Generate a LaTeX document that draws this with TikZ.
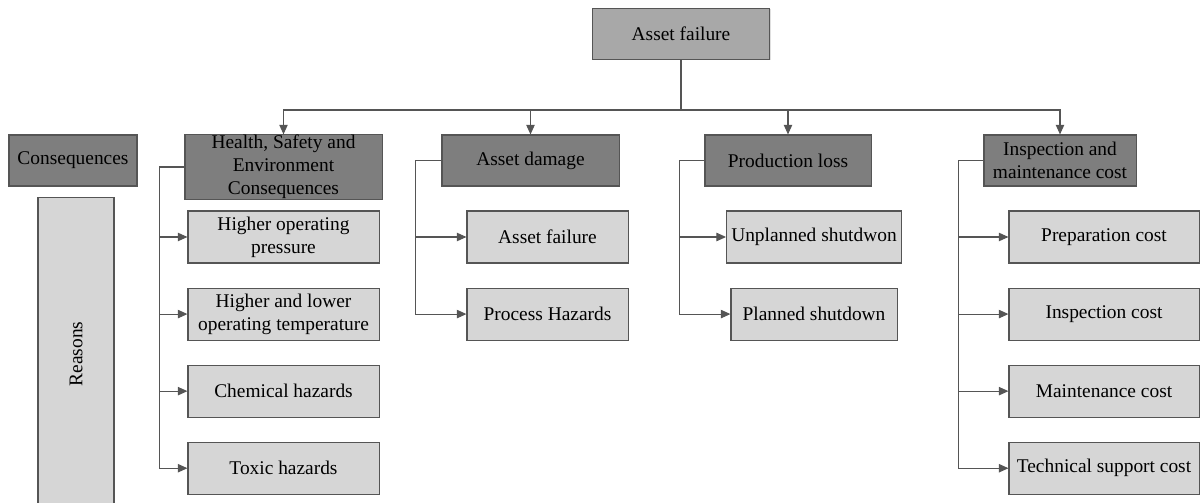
\documentclass[tikz,border=0pt]{standalone}
\usepackage{fontspec}
\setmainfont{Liberation Serif}
\usetikzlibrary{arrows.meta, positioning, shadows}
\definecolor{edgegray}{HTML}{555555}
\definecolor{rootgray}{HTML}{A8A8A8}
\definecolor{catgray}{HTML}{7E7E7E}
\definecolor{leafgray}{HTML}{D6D6D6}
\newcommand{\diagfont}{\fontsize{13.8}{16.5}\selectfont}
\tikzset{
  rootbox/.style  = {rectangle, draw=edgegray, fill=rootgray, line width=0.75pt,
                     minimum width=4.425cm, minimum height=1.275cm,
                     align=center, font=\diagfont,
                     drop shadow={shadow xshift=0.7pt, shadow yshift=-0.7pt, opacity=0.25}},
  catbox/.style   = {rectangle, draw=edgegray, fill=catgray, line width=0.75pt,
                     minimum height=1.275cm, align=center, font=\diagfont,
                     drop shadow={shadow xshift=0.7pt, shadow yshift=-0.7pt, opacity=0.25}},
  leafbox/.style  = {rectangle, draw=edgegray, fill=leafgray, line width=0.75pt,
                     minimum height=1.3cm, align=center, font=\diagfont,
                     drop shadow={shadow xshift=0.7pt, shadow yshift=-0.7pt, opacity=0.25}},
  link/.style     = {draw=edgegray, line width=0.75pt},
  arrow/.style    = {-{Triangle[length=2.4mm, width=2.1mm]}, draw=edgegray,
                     line width=0.75pt},
}
\begin{document}
\begin{tikzpicture}[x=0.025cm, y=-0.025cm, node distance=0.6cm]
    \useasboundingbox (0,0) rectangle (1204,503);

    % ── Root and legend ───────────────────────────────────────────
    \node[rootbox] (root) at (681,34) {Asset failure};

    \node[catbox, minimum width=3.2cm] (legcons) at (73,160.5)
      {Consequences};

    \node[leafbox, rotate=90, minimum width=7.8cm, minimum height=1.9cm]
      (legreas) at (76,354) {Reasons};

    % ── Consequence categories ────────────────────────────────────
    \node[catbox, minimum width=4.925cm, minimum height=1.6cm,
          inner ysep=0pt] (hse) at (283.5,167)
      {Health, Safety and\\ Environment\\ Consequences};

    \node[catbox, minimum width=4.425cm] (damage) at (530.5,160.5)
      {Asset damage};

    \node[catbox, minimum width=4.15cm] (prodloss) at (788,160.5)
      {Production loss};

    \node[catbox, minimum width=3.8cm] (inspcost) at (1060,160.5)
      {Inspection and\\ maintenance cost};

    % ── Reasons: health, safety and environment ───────────────────
    \node[leafbox, minimum width=4.775cm] (hsepres) at (283.5,237)
      {Higher operating\\ pressure};
    \node[leafbox, minimum width=4.775cm, below=of hsepres] (hsetemp)
      {Higher and lower\\ operating temperature};
    \node[leafbox, minimum width=4.775cm, below=of hsetemp] (hsechem)
      {Chemical hazards};
    \node[leafbox, minimum width=4.775cm, below=of hsechem] (hsetox)
      {Toxic hazards};

    % ── Reasons: asset damage ─────────────────────────────────────
    \node[leafbox, minimum width=4.025cm] (dmgfail) at (547.5,237)
      {Asset failure};
    \node[leafbox, minimum width=4.025cm, below=of dmgfail] (dmgproc)
      {Process Hazards};

    % ── Reasons: production loss ──────────────────────────────────
    \node[leafbox, minimum width=4.15cm] (plunplan) at (814,237)
      {Unplanned shutdwon};
    \node[leafbox, minimum width=4.15cm, below=of plunplan] (plplan)
      {Planned shutdown};

    % ── Reasons: inspection and maintenance cost ──────────────────
    \node[leafbox, minimum width=4.75cm] (imprep) at (1104,237)
      {Preparation cost};
    \node[leafbox, minimum width=4.75cm, below=of imprep] (iminsp)
      {Inspection cost};
    \node[leafbox, minimum width=4.75cm, below=of iminsp] (immaint)
      {Maintenance cost};
    \node[leafbox, minimum width=4.75cm, below=of immaint] (imtech)
      {Technical support cost};

    % ── Arrows ────────────────────────────────────────────────────
    \coordinate (bus) at (681,110);
    \draw[link]  (root)     -- (bus);
    \draw[arrow] (bus)      -| (hse);
    \draw[arrow] (bus)      -| (damage);
    \draw[arrow] (bus)      -| (prodloss);
    \draw[arrow] (bus)      -| (inspcost);

    \draw[arrow] (hse.west) -- ++(-25,0) |- (hsepres);
    \draw[arrow] (hse.west) -- ++(-25,0) |- (hsetemp);
    \draw[arrow] (hse.west) -- ++(-25,0) |- (hsechem);
    \draw[arrow] (hse.west) -- ++(-25,0) |- (hsetox);

    \draw[arrow] (damage.west) -- ++(-26,0) |- (dmgfail);
    \draw[arrow] (damage.west) -- ++(-26,0) |- (dmgproc);

    \draw[arrow] (prodloss.west) -- ++(-25,0) |- (plunplan);
    \draw[arrow] (prodloss.west) -- ++(-25,0) |- (plplan);

    \draw[arrow] (inspcost.west) -- ++(-25,0) |- (imprep);
    \draw[arrow] (inspcost.west) -- ++(-25,0) |- (iminsp);
    \draw[arrow] (inspcost.west) -- ++(-25,0) |- (immaint);
    \draw[arrow] (inspcost.west) -- ++(-25,0) |- (imtech);

  \end{tikzpicture}
\end{document}
